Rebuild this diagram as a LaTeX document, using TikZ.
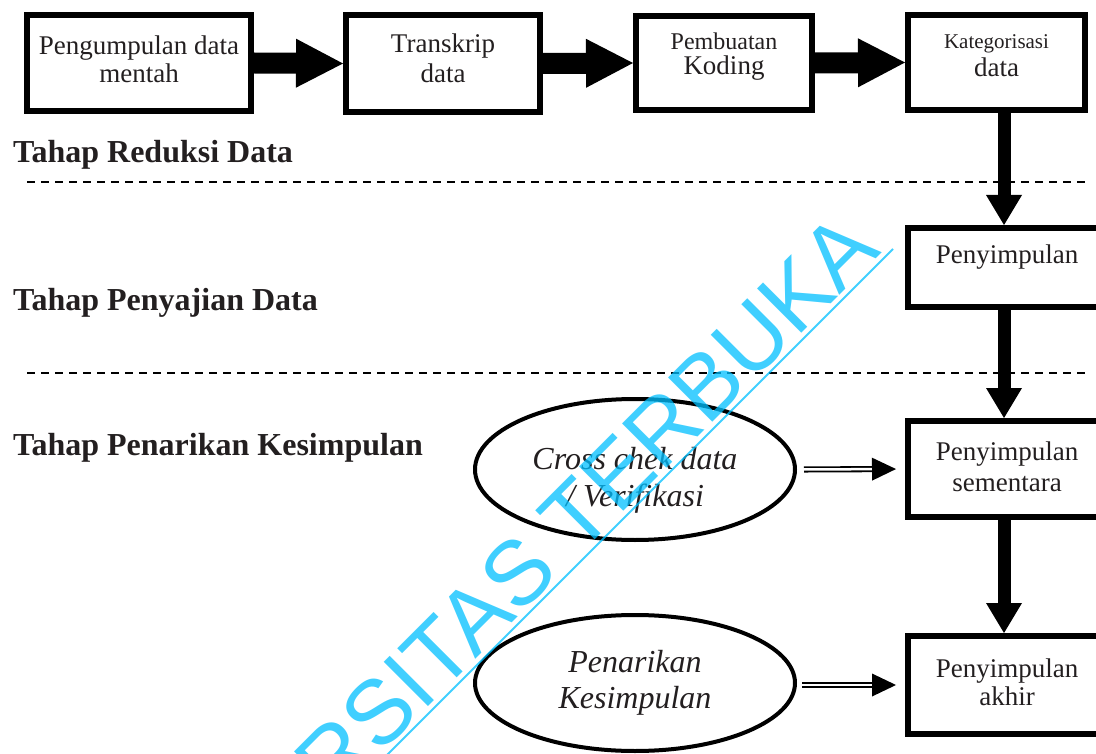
\documentclass[tikz,border=0pt]{standalone}
\usepackage{fontspec}
\setmainfont{Liberation Serif}
\newfontfamily\wmfont{Liberation Sans}
\usetikzlibrary{arrows.meta,shapes.geometric}
\definecolor{ink}{RGB}{35,31,32}
\definecolor{wmc}{RGB}{0,191,255}
\begin{document}
\begin{tikzpicture}[x=1pt,y=-1pt,
  pbox/.style={draw=black, line width=6pt, inner sep=0pt, align=center, text=ink,
    font=\fontsize{27}{28}\selectfont, text height=50pt},
  oval/.style={ellipse, draw=black, line width=4pt, inner sep=0pt, align=center, text=ink,
    minimum width=320pt},
  bigarrow/.style={line width=21pt, -{Triangle[length=47pt,width=49pt,line width=0pt]}},
  downarrow/.style={line width=13pt, -{Triangle[length=30pt,width=36pt,line width=0pt]}},
  dblarrow/.style={double, double distance=2.5pt, line width=1.8pt,
    -{Triangle[length=24pt,width=23pt,line width=0pt]}},
  stage/.style={font=\fontsize{32}{38}\selectfont\bfseries, text=ink, anchor=base west, inner sep=0pt},
  sepline/.style={line width=1.5pt, dash pattern=on 8pt off 6pt}
]
\useasboundingbox (0,0) rectangle (1096,754);
\clip (0,0) rectangle (1096,754);

% separators
\draw[sepline] (27,182) -- (1085,182);
\draw[sepline] (27,373) -- (1085,373);

% stage labels
\node[stage] (t1) at (13,163) {Tahap Reduksi Data};
\node[stage] (t2) at (13,311) {Tahap Penyajian Data};
\node[stage] (t3) at (13,455) {Tahap Penarikan Kesimpulan};

% top row
\node[pbox, minimum width=224pt, minimum height=96pt, text depth=10pt] (b1) at (139,63)
  {Pengumpulan data\\mentah};
\node[pbox, minimum width=194pt, minimum height=97pt, text depth=11pt,
  font=\fontsize{27}{30}\selectfont] (b2) at (443,63.5) {Transkrip\\data};
\node[pbox, minimum width=176pt, minimum height=94pt, text depth=26pt,
  font=\fontsize{27}{25}\selectfont] (b3) at (724,63)
  {{\fontsize{24}{25}\selectfont Pembuatan}\\Koding};
\node[pbox, minimum width=177pt, minimum height=95pt, text depth=21pt] (b4) at (996.5,62.5)
  {{\fontsize{21}{25}\selectfont Kategorisasi}\\data};

% right column
\node[pbox, minimum width=198pt, minimum height=79pt, text height=18pt, text depth=25pt] (p1) at (1007,267.5)
  {Penyimpulan};
\node[pbox, minimum width=198pt, minimum height=96pt, text depth=6pt,
  font=\fontsize{27}{31}\selectfont] (s1) at (1007,469) {Penyimpulan\\sementara};
\node[pbox, minimum width=198pt, minimum height=98pt, text depth=10pt] (s2) at (1007,685)
  {Penyimpulan\\akhir};

% ellipses
\node[oval, minimum height=141pt, text height=80pt, text depth=7pt,
  font=\fontsize{32}{37}\selectfont\itshape] (e1) at (635,469.5) {Cross chek data\\/ Verifikasi};
\node[oval, minimum height=136pt, text height=60pt, text depth=10pt,
  font=\fontsize{32}{36}\selectfont\itshape] (e2) at (635,683) {Penarikan\\Kesimpulan};

% thick arrows
\draw[bigarrow] (b1.east) -- (b2.west);
\draw[bigarrow] (b2.east) -- (b3.west);
\draw[bigarrow] (b3.east) -- (b4.west);

\coordinate (vx) at (1004,0);
\draw[downarrow] (b4.south -| vx) -- (p1.north -| vx);
\draw[downarrow] (p1.south -| vx) -- (s1.north -| vx);
\draw[downarrow] (s1.south -| vx) -- (s2.north -| vx);

% double arrows
\draw[dblarrow, shorten <=7pt, shorten >=9pt] (e1.east) -- (s1.west);
\draw[dblarrow, shorten <=5pt, shorten >=9pt] (e2.east |- s2.west) -- (s2.west);

% watermark
\node[rotate=45, anchor=base east, inner sep=0pt, text=wmc, text opacity=0.75,
  font=\wmfont\fontsize{91}{91}\selectfont] (wm) at (883,252) {UNIVERSITAS TERBUKA};
\draw[wmc, opacity=0.75, line width=2pt] (893,249) -- (380,762);
\end{tikzpicture}
\end{document}
